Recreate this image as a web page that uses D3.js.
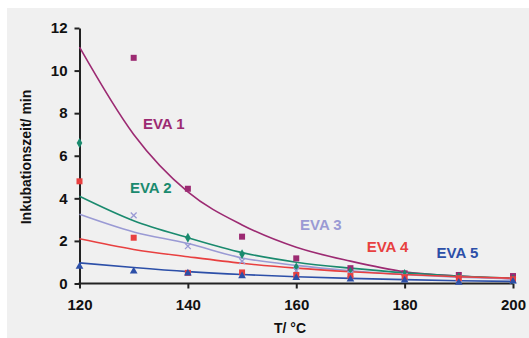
<!DOCTYPE html>
<html>
<head>
<meta charset="utf-8">
<script src="https://cdn.jsdelivr.net/npm/d3@7"></script>
<style>
  body { margin: 0; background: #fff; }
  svg { display: block; font-family: "Liberation Sans", Arial, sans-serif; }
</style>
</head>
<body>
<div id="chart"></div>
<script>
'use strict';

// data
var temps = [120, 130, 140, 150, 160, 170, 180, 190, 200];
var xTicks = [120, 140, 160, 180, 200];
var yTicks = [0, 2, 4, 6, 8, 10, 12];
var names = ['EVA 1', 'EVA 2', 'EVA 3', 'EVA 4', 'EVA 5'];
var colors = ['#9c2a72', '#1a8a6e', '#9a9ad4', '#e84040', '#2c4fa8'];
var markers = ['square', 'diamond', 'cross', 'square', 'triangle'];

// measured points (null = not visible)
var eva1Points = [null, 10.6, 4.45, 2.2, 1.18, 0.72, 0.48, 0.4, 0.35];
var eva2Points = [6.6, null, 2.15, 1.38, 0.76, 0.55, 0.45, 0.3, 0.2];
var eva3Points = [null, 3.2, 1.75, 1.05, 0.6, 0.45, 0.35, 0.25, 0.15];
var eva4Points = [4.8, 2.15, 0.5, 0.52, 0.4, 0.35, 0.3, 0.25, 0.2];
var eva5Points = [0.8, 0.58, 0.48, 0.35, 0.27, 0.2, 0.15, 0.05, 0.1];

// fitted curves, read at the same temperatures
var eva1Fit = [11.1, 7.0, 4.3, 2.75, 1.7, 1.05, 0.55, 0.35, 0.22];
var eva2Fit = [4.1, 2.95, 2.15, 1.45, 1.0, 0.72, 0.5, 0.35, 0.25];
var eva3Fit = [3.25, 2.42, 1.88, 1.2, 0.85, 0.6, 0.42, 0.3, 0.22];
var eva4Fit = [2.1, 1.6, 1.26, 0.95, 0.72, 0.55, 0.42, 0.32, 0.25];
var eva5Fit = [0.97, 0.75, 0.56, 0.42, 0.32, 0.24, 0.18, 0.13, 0.1];

// label anchors (temperature, value)
var labelT = [131.7, 129.3, 160.7, 173, 185.9];
var labelV = [7.5, 4.48, 2.75, 1.71, 1.43];

var allPoints = [eva1Points, eva2Points, eva3Points, eva4Points, eva5Points];
var allFits = [eva1Fit, eva2Fit, eva3Fit, eva4Fit, eva5Fit];

var WIDTH = 529, HEIGHT = 338;

var svg = d3.select('#chart').append('svg')
	.attr('width', WIDTH)
	.attr('height', HEIGHT);

svg.append('rect')
	.attr('x', 7).attr('y', 8)
	.attr('width', WIDTH - 7).attr('height', HEIGHT - 8)
	.attr('fill', '#f0f0f0');

var x = d3.scaleLinear().domain([120, 200]).range([79.5, 513]);
var y = d3.scaleLinear().domain([0, 12]).range([283.5, 28]);

// axes
var xAxis = svg.append('g')
	.attr('transform', 'translate(0,' + y(0) + ')')
	.call(d3.axisBottom(x).tickValues(xTicks).tickSize(5).tickPadding(11).tickSizeOuter(0));
var yAxis = svg.append('g')
	.attr('transform', 'translate(' + x(120) + ',0)')
	.call(d3.axisLeft(y).tickValues(yTicks).tickSize(5).tickPadding(7).tickSizeOuter(0));

[xAxis, yAxis].forEach(function (g) {
	g.select('.domain').attr('stroke', '#222').attr('stroke-width', 2);
	g.selectAll('.tick line').attr('stroke', '#222').attr('stroke-width', 2);
	g.selectAll('.tick text')
		.attr('fill', '#111')
		.style('font-size', '15px')
		.style('font-weight', 'bold');
});
xAxis.select('.domain').attr('d', 'M' + (x(120) - 1) + ',0H' + x(200));

svg.append('text')
	.attr('x', 290).attr('y', 333)
	.attr('text-anchor', 'middle')
	.style('font-size', '14px').style('font-weight', 'bold')
	.attr('fill', '#111')
	.text('T/ °C');

svg.append('text')
	.attr('transform', 'translate(31,157) rotate(-90)')
	.attr('text-anchor', 'middle')
	.style('font-size', '14px').style('font-weight', 'bold')
	.attr('fill', '#111')
	.text('Inkubationszeit/ min');

// curves
var line = d3.line()
	.x(function (d, i) { return x(temps[i]); })
	.y(function (d) { return y(d); })
	.curve(d3.curveMonotoneX);

allFits.forEach(function (fit, k) {
	svg.append('path')
		.attr('d', line(fit))
		.attr('fill', 'none')
		.attr('stroke', colors[k])
		.attr('stroke-width', 1.6);
});

// markers
allPoints.forEach(function (pts, k) {
	var g = svg.append('g').attr('fill', colors[k]).attr('stroke', colors[k]);
	pts.forEach(function (v, i) {
		if (v === null) return;
		var cx = x(temps[i]), cy = y(v);
		if (markers[k] === 'square') {
			g.append('rect').attr('x', cx - 3).attr('y', cy - 3)
				.attr('width', 6).attr('height', 6).attr('stroke', 'none');
		} else if (markers[k] === 'diamond') {
			g.append('path')
				.attr('d', d3.symbol(d3.symbolDiamond, 28)())
				.attr('transform', 'translate(' + cx + ',' + cy + ')')
				.attr('stroke', 'none');
		} else if (markers[k] === 'triangle') {
			g.append('path')
				.attr('d', d3.symbol(d3.symbolTriangle, 26)())
				.attr('transform', 'translate(' + cx + ',' + cy + ')')
				.attr('stroke', 'none');
		} else {
			g.append('path')
				.attr('d', d3.symbol(d3.symbolTimes, 24)())
				.attr('transform', 'translate(' + cx + ',' + cy + ')')
				.attr('fill', 'none').attr('stroke-width', 1.3);
		}
	});
});

// series labels
names.forEach(function (name, k) {
	svg.append('text')
		.attr('x', x(labelT[k]))
		.attr('y', y(labelV[k]))
		.attr('dy', '0.35em')
		.attr('fill', colors[k])
		.style('font-size', '15px')
		.style('font-weight', 'bold')
		.text(name);
});
</script>
</body>
</html>
